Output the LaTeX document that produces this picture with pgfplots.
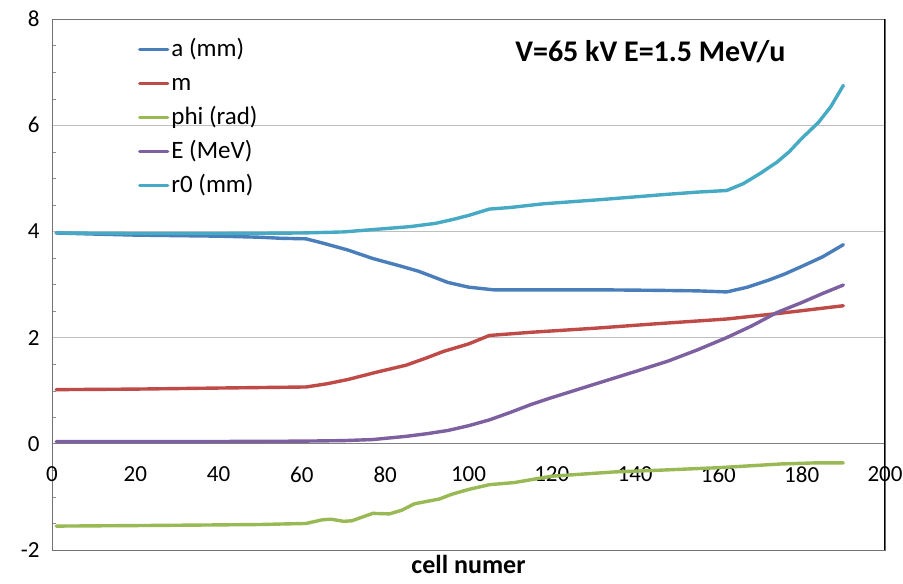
\documentclass[border=0pt]{standalone}
\usepackage{pgfplots}
\pgfplotsset{compat=1.18}
\usepackage{fontspec}
\setmainfont{Carlito}

\definecolor{cA}{HTML}{4A7EBB}
\definecolor{cM}{HTML}{BE4B48}
\definecolor{cPhi}{HTML}{98B954}
\definecolor{cE}{HTML}{7D60A0}
\definecolor{cR}{HTML}{46AAC5}

\begin{document}
\begin{tikzpicture}
\begin{axis}[
  name=ax,
  scale only axis,
  width=833pt, height=531pt,
  xmin=0, xmax=200, ymin=-2, ymax=8,
  xtick={0,20,...,200},
  ytick={-2,0,2,4,6,8},
  ytick pos=left,
  xtick pos=left,
  minor y tick num=3,
  major tick length=0pt,
  minor tick length=4pt,
  tick align=inside,
  tick style={black!45},
  ymajorgrids,
  grid style={black!25, line width=0.9pt},
  extra y ticks={0},
  extra y tick labels={},
  extra y tick style={grid style={black!50, line width=0.9pt}},
  axis line style={black!55, line width=0.9pt},
  tick label style={font=\fontsize{23}{27}\selectfont},
  /pgf/number format/assume math mode=true,
  xticklabel style={yshift=87pt},
  yticklabel style={xshift=-9pt},
  xlabel={\textbf{cell numer}},
  xlabel style={font=\fontsize{26}{30}\selectfont, at={(axis description cs:0.5,0)}, anchor=north, yshift=-2pt},
  legend style={draw=none, fill=none, at={(rel axis cs:0.103,0.972)}, anchor=north west,
    font=\fontsize{25}{29}\selectfont, row sep=3pt, inner sep=0pt,
    nodes={inner sep=2pt, text height=20pt, text depth=7pt}},
  legend cell align=left,
  legend image code/.code={\draw[#1] (0pt,0pt) -- (28pt,0pt);},
  every axis plot/.append style={line width=3.4pt, line join=round, line cap=round},
]
\addplot[cA] coordinates {
(1,3.97)(10,3.95)(20,3.93)(30,3.92)(40,3.91)(50,3.89)(55,3.87)(61,3.86)(65,3.78)
(71,3.65)(77,3.49)(84,3.34)(88,3.25)(95,3.04)(100,2.95)(106,2.90)(115,2.90)
(131,2.90)(145,2.89)(155,2.88)(162,2.86)(167,2.95)(172,3.08)(176,3.20)(180,3.34)
(185,3.52)(190,3.75)};
\addlegendentry{a (mm)}
\addplot[cM] coordinates {
(1,1.02)(20,1.03)(40,1.05)(61,1.07)(66,1.13)(71,1.21)(78,1.35)(85,1.48)(90,1.62)
(94,1.74)(100,1.88)(105,2.04)(115,2.10)(131,2.18)(145,2.26)(162,2.35)(175,2.46)(190,2.60)};
\addlegendentry{m}
\addplot[cPhi] coordinates {
(1,-1.55)(20,-1.54)(36,-1.53)(50,-1.52)(61,-1.50)(65,-1.43)(67,-1.42)(70,-1.46)
(72,-1.45)(77,-1.31)(81,-1.32)(84,-1.25)(87,-1.13)(91,-1.07)(93,-1.04)(96,-0.95)
(100,-0.86)(105,-0.77)(111,-0.73)(120,-0.61)(135,-0.53)(145,-0.50)(160,-0.45)
(175,-0.38)(183,-0.36)(190,-0.36)};
\addlegendentry{phi (rad)}
\addplot[cE] coordinates {
(1,0.04)(30,0.04)(60,0.05)(70,0.06)(77,0.08)(85,0.14)(90,0.19)(95,0.25)(100,0.34)
(105,0.45)(110,0.59)(115,0.74)(120,0.87)(131,1.14)(140,1.36)(148,1.56)(155,1.77)
(162,2.00)(168,2.22)(174,2.47)(180,2.66)(185,2.83)(190,2.99)};
\addlegendentry{E (MeV)}
\addplot[cR] coordinates {
(1,3.97)(20,3.96)(40,3.96)(60,3.97)(70,3.99)(78,4.04)(86,4.09)(92,4.15)(96,4.22)
(100,4.30)(105,4.42)(110,4.45)(118,4.52)(125,4.56)(132,4.60)(140,4.65)(148,4.70)
(155,4.74)(162,4.77)(166,4.90)(170,5.09)(174,5.30)(177,5.50)(180,5.75)(184,6.05)
(187,6.35)(190,6.75)};
\addlegendentry{r0 (mm)}
\node[anchor=west, font=\fontsize{30}{34}\selectfont\bfseries, inner sep=0pt]
  at (rel axis cs:0.556,0.938) {V=65 kV E=1.5 MeV/u};
\draw[black, line width=1.2pt] (rel axis cs:1,0) -- (rel axis cs:1,1);
\end{axis}
\pgfresetboundingbox
\path ([xshift=-52pt,yshift=-34pt]ax.south west) rectangle ([xshift=18pt,yshift=19pt]ax.north east);
\end{tikzpicture}
\end{document}
